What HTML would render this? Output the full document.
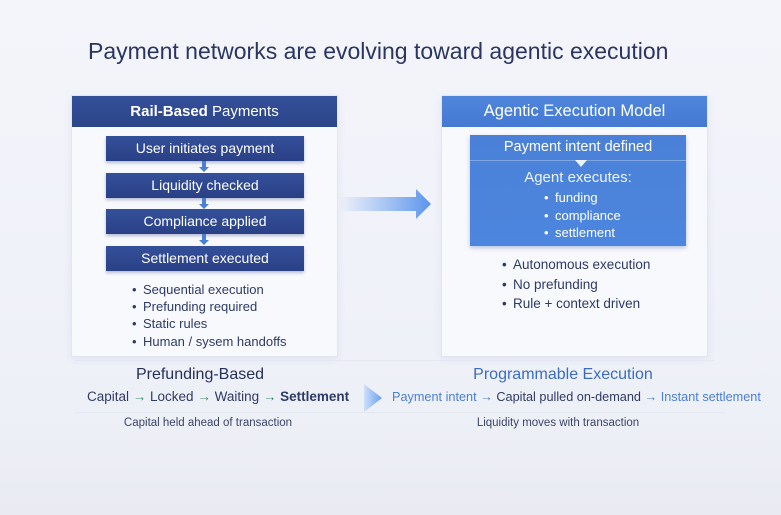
<!DOCTYPE html>
<html><head><meta charset="utf-8"><style>
*{margin:0;padding:0;box-sizing:border-box}
body{width:781px;height:515px;overflow:hidden;background:linear-gradient(#f4f5fb,#eef0f8 80%,#e9eaf2);font-family:"Liberation Sans",sans-serif;position:relative;color:#2a3560}
.a{position:absolute}
.c{text-align:center;white-space:nowrap}
.panel{position:absolute;top:95px;width:267px;height:262px;background:rgba(248,249,253,.9);border:1px solid #e3e6f0;box-shadow:0 2px 8px rgba(60,80,140,.08)}
.hd{position:absolute;left:0;top:0;width:100%;height:31px;color:#fff;font-size:15px;line-height:31px;text-align:center}
.box{position:absolute;left:106px;width:198px;height:25px;background:linear-gradient(#34509a,#2a4086);color:#fff;font-size:14px;line-height:25px;text-align:center;box-shadow:0 2px 3px rgba(30,50,110,.3)}
.li{position:absolute;font-size:13px;white-space:nowrap;color:#2e3a66}
.li:before{content:"•";position:absolute;left:-11px}
</style></head><body>
<div class="a" style="left:88px;top:38px;font-size:23px;white-space:nowrap;color:#2a3560">Payment networks are evolving toward agentic execution</div>

<div class="panel" style="left:71px"><div class="hd" style="background:linear-gradient(#34509a,#2c4589)"><b>Rail-Based</b> Payments</div></div>
<div class="box" style="top:136px">User initiates payment</div>
<div class="box" style="top:173px">Liquidity checked</div>
<div class="box" style="top:209px">Compliance applied</div>
<div class="box" style="top:246px">Settlement executed</div>
<svg class="a" style="left:198px;top:160px" width="12" height="90"><g fill="#4a7fd6"><path d="M4 1h4v6h3l-5 5-5-5h3z"/><path d="M4 38h4v6h3l-5 5-5-5h3z"/><path d="M4 74h4v6h3l-5 5-5-5h3z"/></g></svg>
<div class="li" style="left:143px;top:282px">Sequential execution</div>
<div class="li" style="left:143px;top:299px">Prefunding required</div>
<div class="li" style="left:143px;top:316px">Static rules</div>
<div class="li" style="left:143px;top:334px">Human / sysem handoffs</div>

<svg class="a" style="left:336px;top:188px" width="100" height="32"><defs><linearGradient id="g" x1="0" x2="1"><stop offset="0" stop-color="#6aa0ee" stop-opacity="0"/><stop offset="1" stop-color="#5a94ec"/></linearGradient></defs><path d="M2 9h78V1l15 15-15 15v-8H2z" fill="url(#g)"/></svg>

<div class="panel" style="left:441px"><div class="hd" style="background:linear-gradient(#4f86dc,#4579d2);font-size:16.5px">Agentic Execution Model</div></div>
<div class="a" style="left:470px;top:135px;width:216px;height:111px;background:linear-gradient(#4a80d8,#4d86de);box-shadow:0 2px 4px rgba(40,80,160,.3)"></div>
<div class="a" style="left:470px;top:160px;width:216px;height:1px;background:rgba(255,255,255,.3)"></div>
<svg class="a" style="left:575px;top:160px" width="12" height="8"><path d="M0 0h12L6 7z" fill="#fff" opacity=".9"/></svg>
<div class="a c" style="left:470px;width:216px;top:139px;font-size:14.5px;color:#fff">Payment intent defined</div>
<div class="a c" style="left:470px;width:216px;top:169px;font-size:15px;color:#eef3ff">Agent executes:</div>
<div class="li" style="left:555px;top:190px;color:#fff">funding</div>
<div class="li" style="left:555px;top:208px;color:#fff">compliance</div>
<div class="li" style="left:555px;top:225px;color:#fff">settlement</div>
<div class="li" style="left:513px;top:257px;font-size:13.5px">Autonomous execution</div>
<div class="li" style="left:513px;top:277px;font-size:13.5px">No prefunding</div>
<div class="li" style="left:513px;top:296px;font-size:13.5px">Rule + context driven</div>

<div class="a" style="left:75px;top:360px;width:640px;height:1px;background:#e6e8f1"></div>
<div class="a" style="left:75px;top:412px;width:650px;height:1px;background:#e6e8f1"></div>
<div class="a c" style="left:100px;width:200px;top:366px;font-size:16px;color:#25305a">Prefunding-Based</div>
<div class="a c" style="left:463px;width:200px;top:366px;font-size:16px;color:#3a6cc4">Programmable Execution</div>
<div class="a" style="left:87px;top:389px;font-size:13.5px;white-space:nowrap;color:#2e3a66">Capital <span style="color:#3a8a6a">→</span> Locked <span style="color:#3a8a6a">→</span> Waiting <span style="color:#3a8a6a">→</span> <b>Settlement</b></div>
<svg class="a" style="left:362px;top:384px" width="22" height="28"><defs><linearGradient id="h" x1="0" x2="1"><stop offset="0" stop-color="#cfe0fa"/><stop offset="1" stop-color="#6a9ff0"/></linearGradient></defs><path d="M2 0l18 14L2 28z" fill="url(#h)"/></svg>
<div class="a" style="left:392px;top:390px;font-size:12.7px;white-space:nowrap;color:#4a7fd6">Payment intent → <span style="color:#2e3a66">Capital pulled on-demand</span> → Instant settlement</div>
<div class="a c" style="left:108px;width:200px;top:417px;font-size:11.5px;color:#3a4468">Capital held ahead of transaction</div>
<div class="a c" style="left:458px;width:200px;top:417px;font-size:11.5px;color:#3a4468">Liquidity moves with transaction</div>
</body></html>
